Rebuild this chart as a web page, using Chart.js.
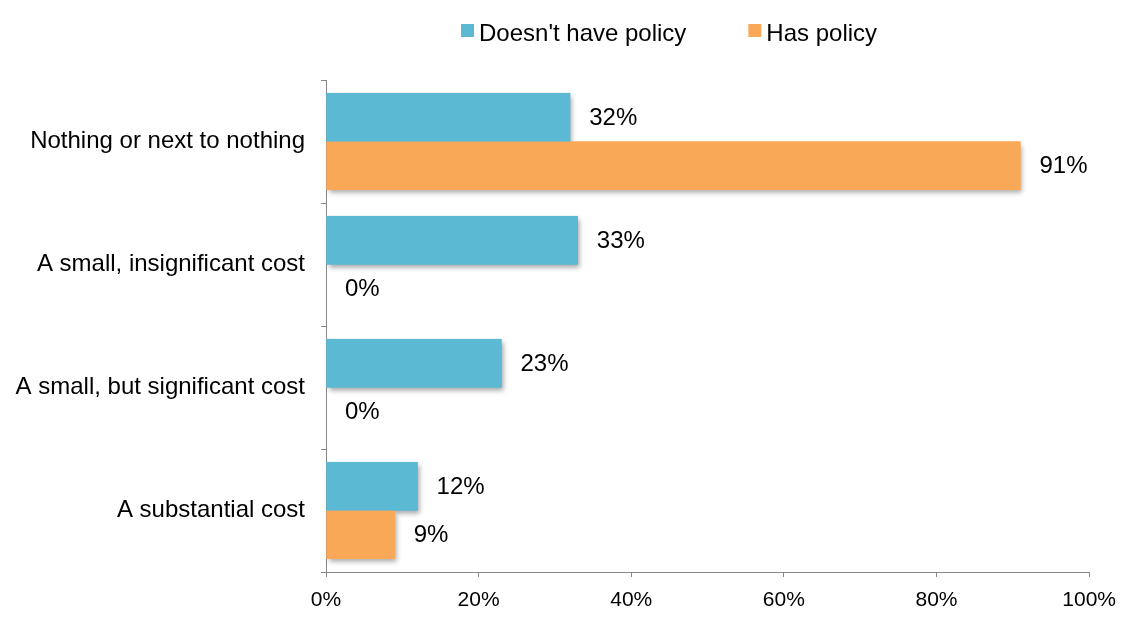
<!DOCTYPE html>
<html>
<head>
<meta charset="utf-8">
<script src="https://cdn.jsdelivr.net/npm/chart.js@4.4.0/dist/chart.umd.min.js"></script>
<style>
  html, body { margin: 0; padding: 0; background: #fff; }
  #wrap { width: 1127px; height: 624px; position: relative; }
</style>
</head>
<body>
<div id="wrap"><canvas id="chart"></canvas></div>
<script>
const categories = [
  'Nothing or next to nothing',
  'A small, insignificant cost',
  'A small, but significant cost',
  'A substantial cost'
];
const seriesNames = ["Doesn't have policy", 'Has policy'];
const noPolicy = [0.32, 0.33, 0.23, 0.12];
const hasPolicy = [0.91, 0, 0, 0.09];
const xTicks = [0, 0.2, 0.4, 0.6, 0.8, 1];
const colors = ['#5BB9D3', '#F9A857'];

const FONT = "'Liberation Sans', Arial, sans-serif";
Chart.defaults.font.family = FONT;
Chart.defaults.color = '#000';

const pct = v => Math.round(v * 100) + '%';

// soft shadow under the bars, drawn before the bars themselves
const barShadow = {
  id: 'barShadow',
  beforeDatasetsDraw(chart) {
    const ctx = chart.ctx;
    ctx.save();
    ctx.shadowColor = 'rgba(0,0,0,0.35)';
    ctx.shadowBlur = 5;
    ctx.shadowOffsetX = 2;
    ctx.shadowOffsetY = 3;
    chart.data.datasets.forEach((ds, i) => {
      chart.getDatasetMeta(i).data.forEach(bar => {
        const w = bar.x - bar.base;
        if (w <= 0) return;
        ctx.fillStyle = ds.backgroundColor;
        ctx.fillRect(bar.base, bar.y - bar.height / 2, w, bar.height);
      });
    });
    ctx.restore();
  }
};

// value labels to the right of each bar
const valueLabels = {
  id: 'valueLabels',
  afterDatasetsDraw(chart) {
    const ctx = chart.ctx;
    ctx.save();
    ctx.font = '24px ' + FONT;
    ctx.fillStyle = '#000';
    ctx.textAlign = 'left';
    ctx.textBaseline = 'middle';
    chart.data.datasets.forEach((ds, i) => {
      chart.getDatasetMeta(i).data.forEach((bar, j) => {
        ctx.fillText(pct(ds.data[j]), bar.x + 19, bar.y + 1);
      });
    });
    ctx.restore();
  }
};

// legend at the top
const topLegend = {
  id: 'topLegend',
  afterDraw(chart) {
    const ctx = chart.ctx;
    ctx.save();
    ctx.font = '24px ' + FONT;
    ctx.textBaseline = 'alphabetic';
    ctx.textAlign = 'left';
    let x = 461;
    chart.data.datasets.forEach((ds, i) => {
      ctx.fillStyle = ds.backgroundColor;
      ctx.fillRect(x, 24, 13, 13);
      ctx.fillStyle = '#000';
      ctx.fillText(ds.label, x + 18, 41);
      x += 18 + ctx.measureText(ds.label).width + 62;
    });
    ctx.restore();
  }
};

new Chart(document.getElementById('chart'), {
  type: 'bar',
  data: {
    labels: categories,
    datasets: [
      { label: seriesNames[0], data: noPolicy, backgroundColor: colors[0] },
      { label: seriesNames[1], data: hasPolicy, backgroundColor: colors[1] }
    ]
  },
  options: {
    indexAxis: 'y',
    responsive: true,
    maintainAspectRatio: false,
    animation: false,
    layout: { padding: { top: 80, right: 37, left: 0, bottom: 0 } },
    datasets: {
      bar: { categoryPercentage: 0.79, barPercentage: 1, borderWidth: 0 }
    },
    scales: {
      x: {
        min: 0,
        max: 1,
        afterBuildTicks: s => { s.ticks = xTicks.map(v => ({ value: v })); },
        afterFit: s => { s.height = 52; },
        ticks: { callback: v => pct(v), font: { size: 21 }, color: '#000', padding: 11, maxRotation: 0 },
        grid: { drawOnChartArea: false, tickLength: 5, color: '#888' },
        border: { color: '#888' }
      },
      y: {
        afterFit: s => { s.width = 326; },
        ticks: { font: { size: 24 }, color: '#000', padding: 16 },
        grid: { drawOnChartArea: false, tickLength: 5, color: '#888', offset: true },
        border: { color: '#888' }
      }
    },
    plugins: {
      legend: { display: false },
      tooltip: { enabled: false }
    }
  },
  plugins: [barShadow, valueLabels, topLegend]
});
</script>
</body>
</html>
